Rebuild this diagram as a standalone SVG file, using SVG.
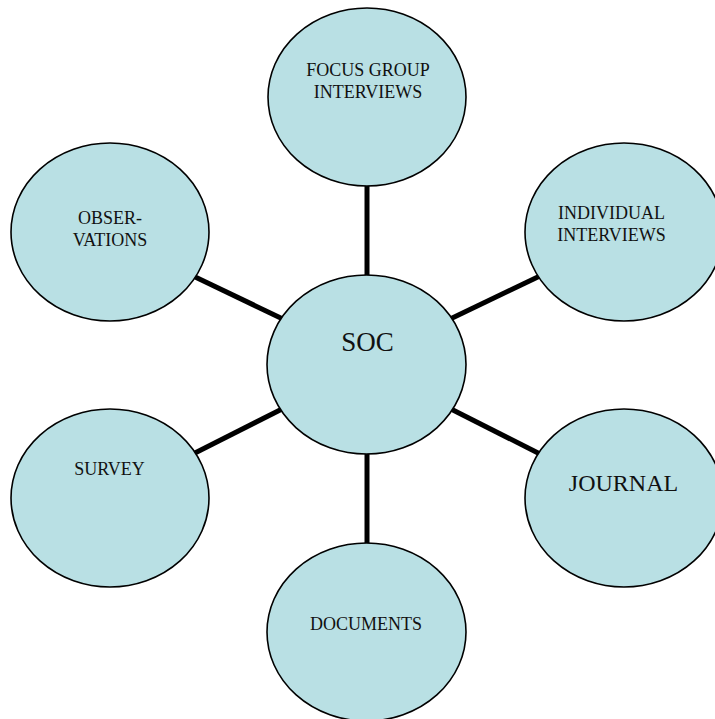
<svg xmlns="http://www.w3.org/2000/svg" width="715" height="719" viewBox="0 0 715 719">
  <style>
    .node { fill: #B9E0E4; stroke: #000; stroke-width: 1.6; }
    .lbl { font-family: "Liberation Serif", "Times New Roman", serif; font-size: 18px; fill: #111; text-anchor: middle; }
    .big { font-size: 24px; }
    .hub { font-size: 27px; }
    .edge { stroke: #000; stroke-width: 5; stroke-linecap: butt; }
  </style>
  <rect width="715" height="719" fill="#fff"/>

  <!-- spokes from the hub to each method -->
  <g id="connectors">
    <line class="edge" x1="367" y1="180" x2="367" y2="282"/>
    <line class="edge" x1="367" y1="448" x2="367" y2="550"/>
    <line class="edge" x1="190" y1="274.5" x2="287" y2="321"/>
    <line class="edge" x1="190" y1="455.5" x2="287" y2="406.5"/>
    <line class="edge" x1="543" y1="274.5" x2="446" y2="321"/>
    <line class="edge" x1="543" y1="455.5" x2="446" y2="406.5"/>
  </g>

  <g id="soc">
    <ellipse class="node" cx="366.5" cy="364.5" rx="99.5" ry="89.5"/>
    <text class="lbl hub" x="367.5" y="351">SOC</text>
  </g>

  <g id="focus-group">
    <ellipse class="node" cx="367" cy="97" rx="99" ry="89"/>
    <text class="lbl" x="368" y="76">FOCUS GROUP</text>
    <text class="lbl" x="368" y="98">INTERVIEWS</text>
  </g>

  <g id="individual">
    <ellipse class="node" cx="624" cy="232" rx="99" ry="89"/>
    <text class="lbl" x="611.5" y="219">INDIVIDUAL</text>
    <text class="lbl" x="611.5" y="241">INTERVIEWS</text>
  </g>

  <g id="observations">
    <ellipse class="node" cx="110" cy="232" rx="99" ry="89"/>
    <text class="lbl" x="110" y="224">OBSER-</text>
    <text class="lbl" x="110" y="246">VATIONS</text>
  </g>

  <g id="survey">
    <ellipse class="node" cx="110" cy="498" rx="99" ry="89"/>
    <text class="lbl" x="109.5" y="475">SURVEY</text>
  </g>

  <g id="journal">
    <ellipse class="node" cx="624" cy="498" rx="99" ry="89"/>
    <text class="lbl big" x="623.5" y="491">JOURNAL</text>
  </g>

  <g id="documents">
    <ellipse class="node" cx="366.5" cy="632" rx="99.5" ry="89"/>
    <text class="lbl" x="366" y="630">DOCUMENTS</text>
  </g>
</svg>
